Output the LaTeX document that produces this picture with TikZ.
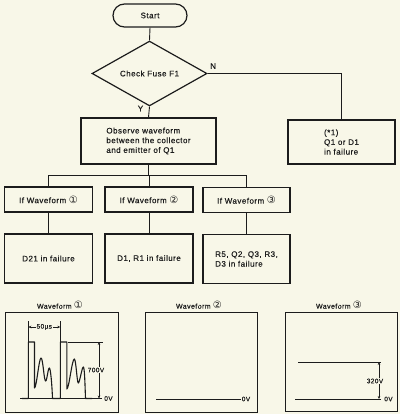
\documentclass[tikz,border=0pt]{standalone}
\usepackage{fontspec}
\setmainfont[LetterSpace=6,FakeBold=0.4]{Liberation Sans}
\newfontfamily\dejavu{DejaVu Sans}
\usetikzlibrary{shapes.geometric,arrows.meta}
\definecolor{bg}{RGB}{248,247,232}
\definecolor{ink}{RGB}{28,28,28}
\newcommand{\cnum}[1]{{\fontsize{10}{10}\selectfont\dejavu #1}}
\begin{document}
\begin{tikzpicture}[x=1pt,y=-1pt,
  txt/.style={text=ink, font=\fontsize{8}{9.7}\selectfont},
  box/.style={txt, draw=ink, line width=1.2pt, rectangle, inner sep=0pt, align=left},
  conn/.style={draw=ink, line width=0.9pt},
  panel/.style={draw=ink, line width=1pt},
  wave/.style={draw=ink, line width=1.1pt, line join=round},
  dim/.style={draw=ink, line width=0.7pt},
  dimarrow/.style={dim, {Stealth[length=3pt,width=2.6pt]}-{Stealth[length=3pt,width=2.6pt]}},
  lab/.style={text=ink, font=\fontsize{6.5}{7}\selectfont, inner sep=0.6pt},
  ttl/.style={text=ink, font=\fontsize{7}{8}\selectfont, inner sep=0pt}]
\useasboundingbox (0,0) rectangle (400,414);
\fill[bg] (0,0) rectangle (400,414);

% flowchart
\node[box, rounded corners=11.5pt, minimum width=74pt, minimum height=23pt] (start) at (150,15.5) {Start};
\node[box, diamond, minimum width=115pt, minimum height=59pt] (dia) at (149.5,73.5) {Check Fuse F1};
\node[box, minimum width=135pt, minimum height=46pt] (obs) at (148.5,141) {Observe waveform\\between the collector\\and emitter of Q1};
\node[box, minimum width=107pt, minimum height=44pt] (rbox) at (341.5,142) {(*1)\\Q1 or D1\\in failure};

\node[box, minimum width=88pt, minimum height=25pt] (if1) at (48.5,199.5) {If Waveform \cnum{①}};
\node[box, minimum width=88pt, minimum height=25pt] (if2) at (149,199.5) {If Waveform \cnum{②}};
\node[box, minimum width=87pt, minimum height=25pt] (if3) at (246.5,200) {If Waveform \cnum{③}};

\node[box, minimum width=88pt, minimum height=49pt] (f1) at (48.5,258.5) {D21 in failure};
\node[box, minimum width=88pt, minimum height=49pt] (f2) at (149,258.5) {D1, R1 in failure};
\node[box, minimum width=87pt, minimum height=49pt] (f3) at (246.5,259) {R5, Q2, Q3, R3,\\D3 in failure};

\node[txt, anchor=west, inner sep=0pt] (nlab) at (210,66) {N};
\node[txt, inner sep=0pt] (ylab) at (140.5,108.5) {Y};

\draw[conn] (start.south) -- (dia.north);
\draw[conn] (dia.east) -| (rbox.north);
\draw[conn] (dia.south) -- (obs.north);
\coordinate (bus) at (148.5,175);
\draw[conn] (obs.south) -- (bus);
\draw[conn] (bus -| if1.north) -- (bus -| if3.north);
\draw[conn] (bus -| if1.north) -- (if1.north);
\draw[conn] (bus -| if2.north) -- (if2.north);
\draw[conn] (bus -| if3.north) -- (if3.north);
\draw[conn] (if1.south) -- (f1.north);
\draw[conn] (if2.south) -- (f2.north);
\draw[conn] (if3.south) -- (f3.north);

% waveform panels
\node[ttl] (t1) at (60,305) {Waveform \cnum{①}};
\node[ttl] (t2) at (199,305) {Waveform \cnum{②}};
\node[ttl] (t3) at (339,305) {Waveform \cnum{③}};
\draw[panel] (5,312) rectangle (118,412);
\draw[panel] (145,312) rectangle (257,412);
\draw[panel] (285,312) rectangle (397,411);

% panel 1 waveform
\draw[dim] (20,398.5) -- (102,398.5);
\draw[wave] (22,398.5) -- (28.3,398.5) -- (28.3,342) -- (34.5,342) -- (34.5,388)
  .. controls (36.5,388) and (39,358) .. (41,358)
  .. controls (43,358) and (44,381) .. (45.6,381)
  .. controls (47,381) and (48,368) .. (49.3,368)
  .. controls (50.6,368) and (52,385) .. (52.5,398.5)
  -- (60.3,398.5) -- (60.3,342) -- (66.8,342) -- (66.8,389)
  .. controls (69,389) and (72,359) .. (74.3,359)
  .. controls (76,359) and (77,383) .. (78.3,383)
  .. controls (79.6,383) and (82,367) .. (83.3,367)
  .. controls (84.6,367) and (85,385) .. (85.5,398.5) -- (92,398.5);
\draw[dim] (28.3,321) -- (28.3,342);
\draw[dim] (60.3,321) -- (60.3,342);
\draw[dimarrow] (28.3,327) -- (60.3,327);
\node[lab, fill=bg] (l50) at (44.3,327) {50µs};
\draw[dim] (68,342) -- (103,342);
\draw[dimarrow] (99,342) -- (99,398.5);
\node[lab, fill=bg] (l700) at (96,370) {700V};
\node[lab, anchor=west] (l0a) at (103.5,398.5) {0V};

% panel 2
\draw[dim, line width=0.9pt] (156,399) -- (241,399);
\node[lab, anchor=west] (l0b) at (241,399) {0V};

% panel 3
\draw[dim, line width=0.9pt] (298,362) -- (381,362);
\draw[dim, line width=0.9pt] (295,399) -- (381,399);
\draw[dimarrow] (379,362) -- (379,399);
\node[lab, fill=bg] (l320) at (375,381) {320V};
\node[lab, anchor=west] (l0c) at (383.5,399) {0V};
\end{tikzpicture}
\end{document}
